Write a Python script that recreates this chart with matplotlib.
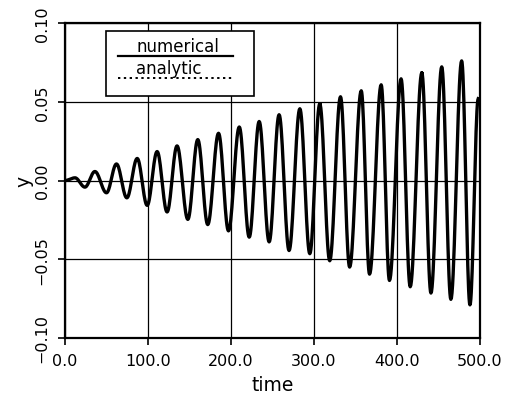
import numpy as np
import matplotlib
matplotlib.use("Agg")
import matplotlib.pyplot as plt
from matplotlib.patches import Rectangle

# extrema of the oscillation (time, y)
ext_time = [0, 12, 24, 36, 50, 62, 74.5, 87, 99, 111, 123, 135, 148, 160, 172,
            185, 197, 210, 222, 234, 246, 258, 270, 283, 295, 307, 319, 332,
            343, 357, 367, 381, 391, 405, 416, 430, 441, 454, 465, 478, 488, 498]
ext_y = [0.0, 0.0017, -0.0042, 0.0057, -0.0078, 0.0105, -0.0110, 0.0140, -0.0158,
         0.0184, -0.0200, 0.0220, -0.0247, 0.0260, -0.0280, 0.0300, -0.0320,
         0.0340, -0.0360, 0.0375, -0.0390, 0.0418, -0.0445, 0.0456, -0.0465,
         0.0487, -0.0510, 0.0532, -0.0550, 0.0570, -0.0595, 0.0608, -0.0635,
         0.0646, -0.0675, 0.0684, -0.0715, 0.0722, -0.0755, 0.0760, -0.0790, 0.0520]

xticks = [0, 100, 200, 300, 400, 500]
xlabels = ["0.0", "100.0", "200.0", "300.0", "400.0", "500.0"]
yticks = [-0.10, -0.05, 0.0, 0.05, 0.10]
ylabels = ["\u22120.10", "\u22120.05", "0.00", "0.05", "0.10"]

# smooth half-cosine segments between the extrema
t_curve, y_curve = [], []
for i in range(len(ext_time) - 1):
    s = np.linspace(0, 1, 20)
    t_curve.extend(ext_time[i] + (ext_time[i + 1] - ext_time[i]) * s)
    y_curve.extend(ext_y[i] + (ext_y[i + 1] - ext_y[i]) * (1 - np.cos(np.pi * s)) / 2)

fig = plt.figure(figsize=(5.1, 4.02), dpi=100)
ax = fig.add_axes([0.1275, 0.157, 0.8135, 0.783])

ax.plot(t_curve, y_curve, color="black", lw=1.0, ls=":", zorder=3)
ax.plot(t_curve, y_curve, color="black", lw=2.4, zorder=4)

ax.set_xlim(0, 500)
ax.set_ylim(-0.10, 0.10)
ax.set_xticks(xticks)
ax.set_xticklabels(xlabels, fontsize=11.5)
ax.set_yticks(yticks)
ax.set_yticklabels(ylabels, fontsize=11.5, rotation=90, va="center")
ax.tick_params(direction="out", length=5, width=1.2, colors="black")
ax.tick_params(axis="x", pad=6)
ax.tick_params(axis="y", pad=6)
ax.grid(True, color="black", lw=0.9, zorder=1)
for sp in ax.spines.values():
    sp.set_linewidth(1.6)

ax.set_xlabel("time", fontsize=13.5, labelpad=5)
ax.set_ylabel("y", fontsize=13.5, labelpad=1)

# legend box with labels above their line samples
ax.add_patch(Rectangle((0.099, 0.768), 0.356, 0.207, transform=ax.transAxes,
                       facecolor="white", edgecolor="black", lw=1.2, zorder=5))
ax.text(0.271, 0.928, "numerical", transform=ax.transAxes, fontsize=12,
        ha="center", va="center", zorder=6)
ax.plot([0.128, 0.405], [0.894, 0.894], transform=ax.transAxes,
        color="black", lw=1.6, zorder=6)
ax.text(0.251, 0.856, "analytic", transform=ax.transAxes, fontsize=12,
        ha="center", va="center", zorder=6)
ax.plot([0.128, 0.405], [0.826, 0.826], transform=ax.transAxes,
        color="black", lw=1.4, ls=(0, (1.2, 1.8)), zorder=6)

fig.savefig("out.png", dpi=100)
